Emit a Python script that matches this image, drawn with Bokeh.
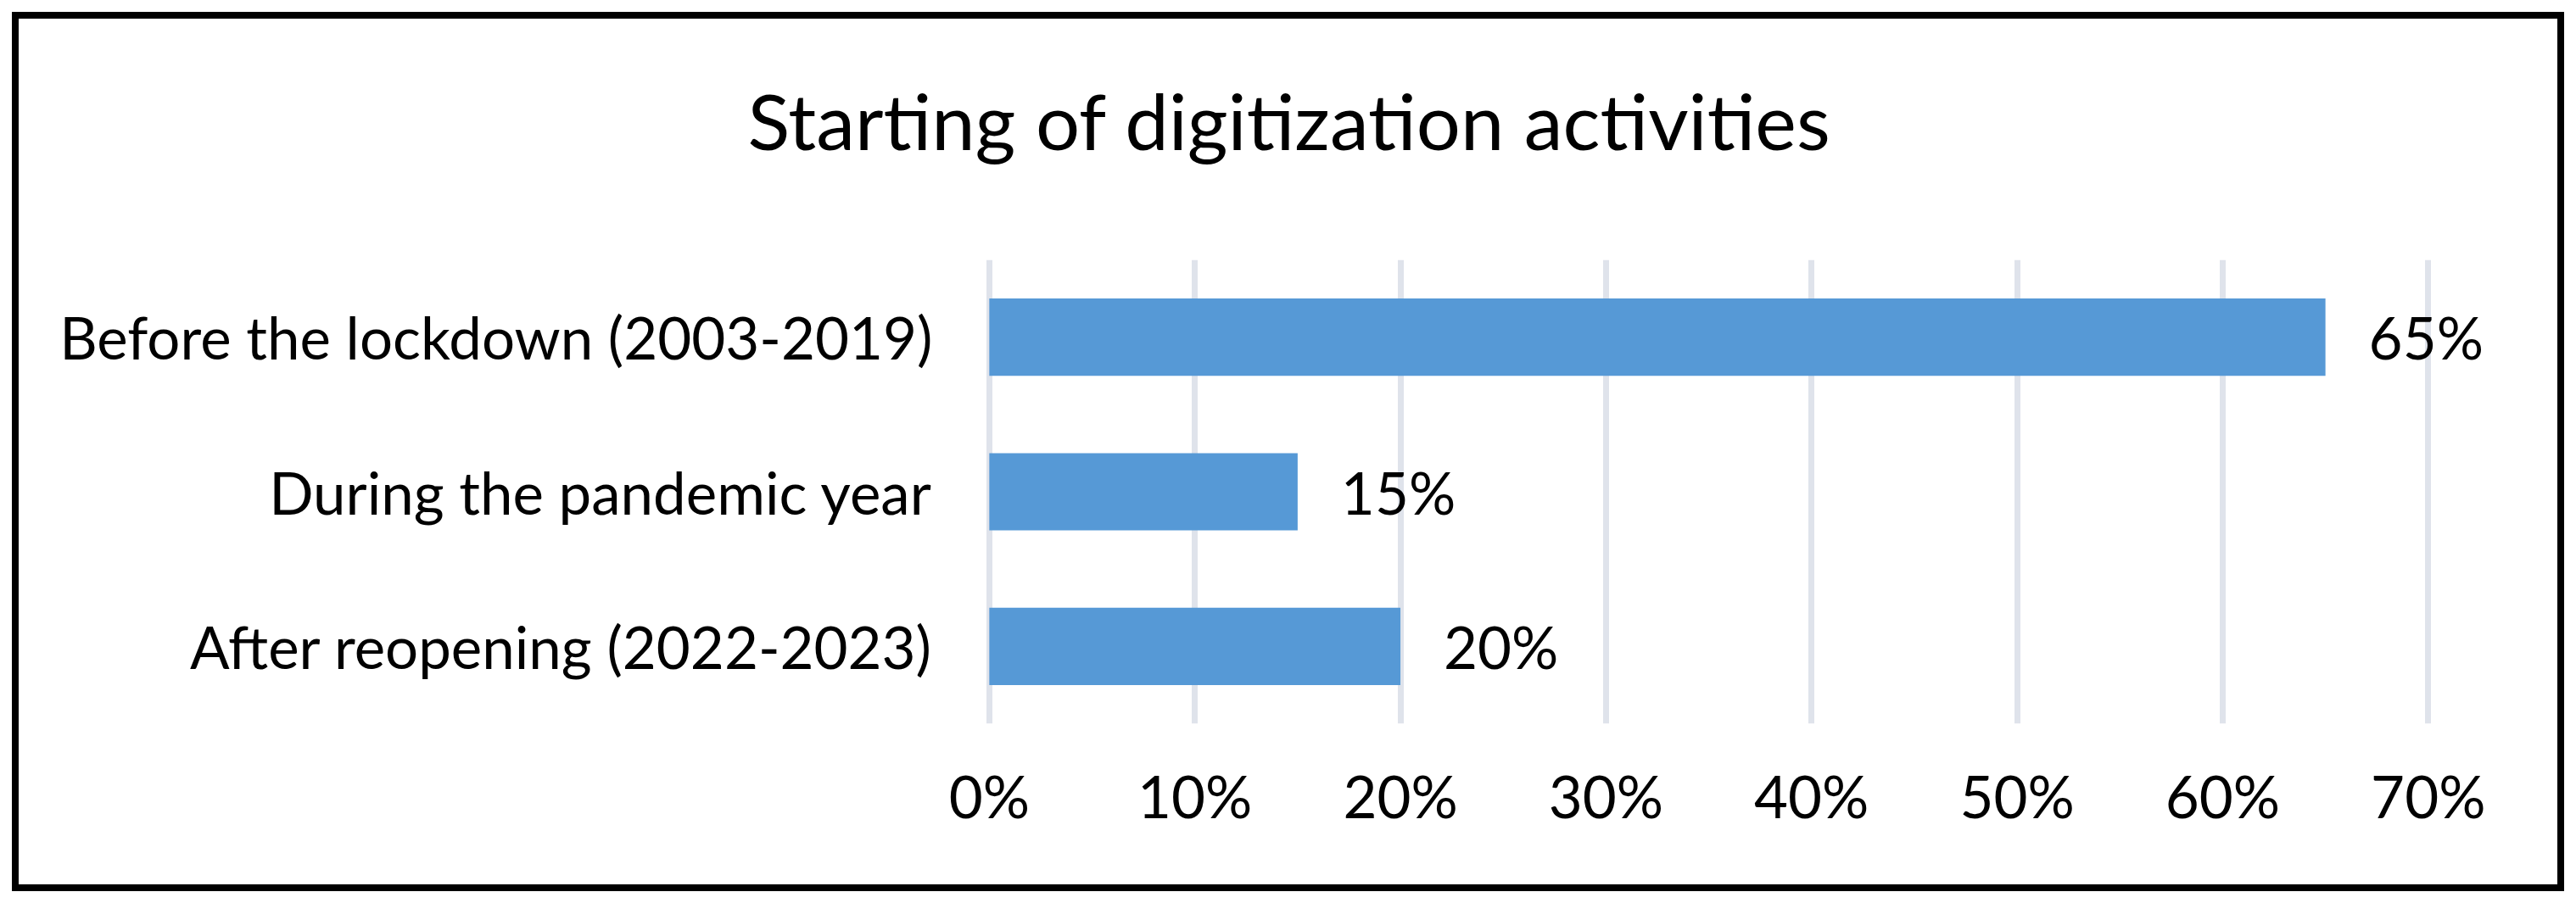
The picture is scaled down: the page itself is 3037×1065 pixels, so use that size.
from bokeh.plotting import figure
from bokeh.models import Range1d, FactorRange, ColumnDataSource, LabelSet, FixedTicker, Title
from bokeh.core.properties import value
from bokeh.embed import file_html
from bokeh.resources import INLINE

title_text = "Starting of digitization activities"
categories = ["Before the lockdown (2003-2019)", "During the pandemic year", "After reopening (2022-2023)"]
shares = [65, 15, 20]
share_labels = ["65%", "15%", "20%"]
x_ticks = [0, 10, 20, 30, 40, 50, 60, 70]
x_tick_labels = ["0%", "10%", "20%", "30%", "40%", "50%", "60%", "70%"]

FONT = "Lato"
LABEL_SIZE = "69px"
TITLE_SIZE = "92px"
BAR_COLOR = "#5699D6"
GRID_COLOR = "#DFE3EB"

source = ColumnDataSource(dict(cat=categories, val=shares, lbl=share_labels))

p = figure(
    width=2993, height=1021,
    y_range=FactorRange(*reversed(categories)),
    x_range=Range1d(-0.2, 73),
    output_backend="svg", toolbar_location=None,
    min_border_left=1139, min_border_right=80,
    min_border_top=284, min_border_bottom=190,
)
p.margin = (22, 0, 0, 22)
p.styles = {"outline": "8px solid black"}
p.outline_line_color = None
p.background_fill_color = "white"
p.border_fill_color = "white"

# blank spacer between the title and the plot area
p.add_layout(Title(text=" ", text_font_size="10px", text_color="white", standoff=92), "above")

p.title.text = title_text
p.title.align = "left"
p.title.offset = -280
p.title.standoff = 10
p.title.text_font = FONT
p.title.text_font_size = TITLE_SIZE
p.title.text_font_style = "normal"
p.title.text_color = "black"

p.hbar(y="cat", left=0, right="val", height=0.5, source=source,
       fill_color=BAR_COLOR, line_color=None)

p.add_layout(LabelSet(x="val", y="cat", text="lbl", source=source, x_offset=51,
                      text_align="left", text_baseline="middle",
                      text_font=value(FONT), text_font_size=LABEL_SIZE, text_color="black"))

p.xgrid.ticker = FixedTicker(ticks=x_ticks)
p.xgrid.grid_line_color = GRID_COLOR
p.xgrid.grid_line_width = 7
p.ygrid.grid_line_color = None

p.xaxis.ticker = FixedTicker(ticks=x_ticks)
p.xaxis.major_label_overrides = {t: l for t, l in zip(x_ticks, x_tick_labels)}
for ax in (p.xaxis, p.yaxis):
    ax.axis_line_color = None
    ax.major_tick_line_color = None
    ax.minor_tick_line_color = None
    ax.major_tick_out = 0
    ax.major_tick_in = 0
    ax.major_label_text_font = FONT
    ax.major_label_text_font_size = LABEL_SIZE
    ax.major_label_text_color = "black"
p.xaxis.major_label_standoff = 43
p.yaxis.major_label_standoff = 62

open("out.html", "w").write(file_html(p, INLINE))
